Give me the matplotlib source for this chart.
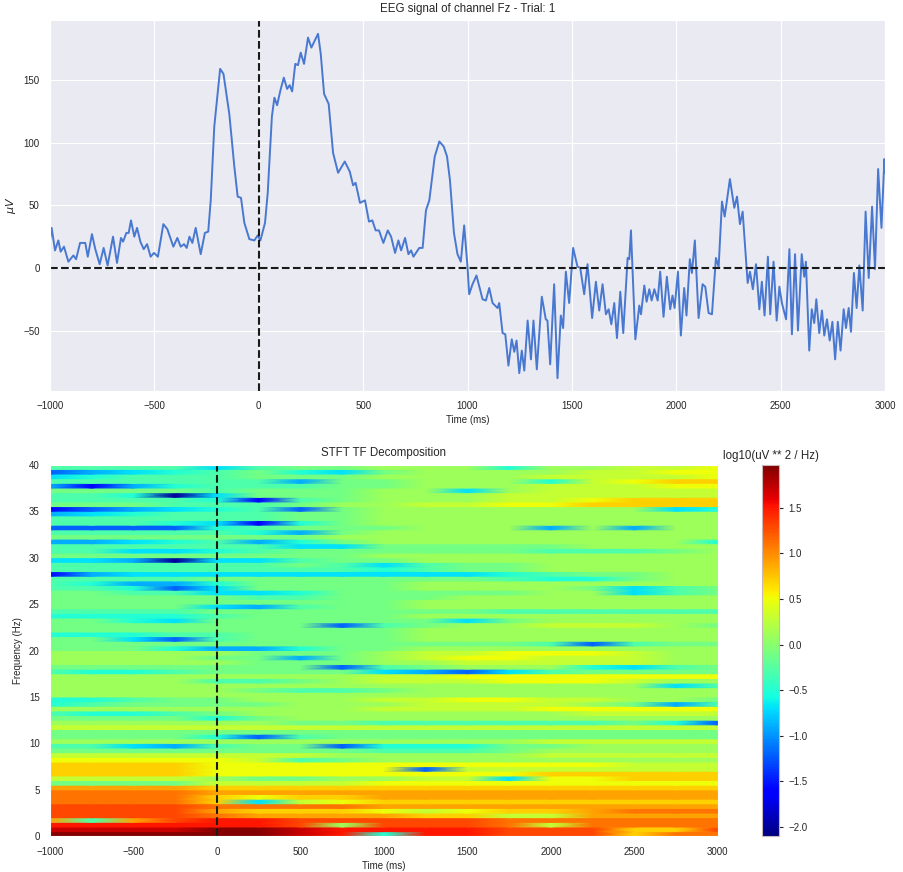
import numpy as np
import matplotlib
matplotlib.use("Agg")
import matplotlib.pyplot as plt
import seaborn as sns

# EEG trace (time in ms, amplitude in uV)
eeg_time = [-1000, -992, -976, -960, -949, -933, -912, -888, -875, -856, -831, -819, -799, -783, -762, -743,
            -724, -698, -679, -660, -650, -634, -623, -612, -596, -583, -567, -551, -535, -518, -502, -483,
            -457, -438, -409, -390, -374, -358, -345, -332, -318, -302, -278, -258, -242, -230, -213, -185,
            -169, -141, -117, -101, -85, -69, -45, -21, -5, 8, 30, 43, 63, 75, 88, 104, 120, 136, 148, 160,
            175, 188, 201, 217, 236, 252, 284, 297, 313, 335, 356, 380, 412, 436, 452, 464, 485, 509, 528,
            544, 560, 576, 597, 618, 634, 653, 669, 682, 701, 717, 730, 741, 769, 785, 801, 817, 843, 865,
            886, 902, 916, 935, 952, 968, 984, 1000, 1008, 1024, 1043, 1072, 1088, 1104, 1120, 1144, 1152,
            1168, 1181, 1196, 1212, 1224, 1235, 1248, 1260, 1272, 1288, 1304, 1316, 1332, 1356, 1375, 1383,
            1396, 1415, 1431, 1447, 1458, 1471, 1487, 1506, 1527, 1540, 1559, 1575, 1597, 1615, 1631, 1647,
            1663, 1676, 1689, 1703, 1716, 1732, 1746, 1767, 1775, 1783, 1804, 1823, 1831, 1847, 1858, 1871,
            1882, 1895, 1911, 1923, 1939, 1955, 1971, 1982, 1992, 2008, 2022, 2038, 2049, 2065, 2075, 2089,
            2107, 2126, 2139, 2155, 2171, 2190, 2203, 2219, 2232, 2257, 2278, 2291, 2305, 2318, 2342, 2353,
            2367, 2382, 2398, 2410, 2423, 2439, 2450, 2466, 2481, 2494, 2506, 2526, 2542, 2554, 2569, 2583,
            2601, 2613, 2621, 2637, 2649, 2661, 2671, 2685, 2698, 2709, 2722, 2735, 2748, 2761, 2774, 2787,
            2802, 2813, 2826, 2837, 2851, 2864, 2877, 2893, 2907, 2922, 2938, 2952, 2967, 2983, 2997, 3000]
eeg_uv = [22, 32, 14, 22, 13, 17, 5, 10, 7, 20, 20, 9, 27, 15, 3, 16,
          2, 25, 4, 24, 21, 28, 28, 38, 25, 32, 21, 15, 19, 9, 12, 9,
          35, 31, 17, 24, 17, 19, 16, 25, 20, 32, 11, 28, 29, 54, 113, 159,
          155, 123, 81, 57, 56, 36, 23, 22, 26, 22, 36, 60, 121, 136, 130, 142, 152, 143, 146, 141,
          163, 162, 172, 163, 184, 176, 187, 171, 139, 131, 92, 76, 85, 77, 66, 68, 52, 54, 37,
          38, 30, 30, 20, 30, 25, 12, 22, 14, 24, 11, 14, 9, 16, 16, 46, 54, 89, 101,
          97, 89, 70, 28, 11, 5, 34, 1, -21, -13, -6, -25, -26, -16, -28, -32, -28,
          -52, -53, -78, -57, -67, -58, -84, -66, -82, -42, -73, -42, -81, -23, -41, -42,
          -77, -13, -88, -38, -48, -3, -28, 16, 1, 0, -21, 3, -40, -11, -34, -13,
          -37, -33, -45, -28, -56, -19, -52, 8, 7, 30, -57, -30, -37, -14, -27, -17,
          -26, -17, -26, -3, -39, -7, -33, -22, -32, -3, -54, -16, -38, 7, -4, 22,
          -40, -13, -15, -36, -37, 8, 1, 53, 41, 71, 48, 57, 35, 45, -12, -3,
          -17, 3, -33, -11, -38, 9, -37, 5, -42, -15, -28, -41, 15, -53, 11, -50,
          11, -7, 5, -66, -33, -44, -25, -52, -34, -54, -41, -58, -43, -73, -43, -66,
          -33, -48, -32, -51, -4, -32, 2, -34, 45, -8, 49, -1, 79, 32, 87, 76]

# STFT power, log10(uV**2/Hz): one string per 0.5 Hz band, top band (39.5-40 Hz) first,
# one character per time column in stft_times, decoded with power_levels
stft_times = [-1000, -750, -500, -250, 0, 250, 500, 750, 1000, 1250, 1500, 1750, 2000, 2250, 2500, 2750, 3000]
power_levels = {'0': -2.0, '1': -1.6, '2': -1.2, '3': -0.9, '4': -0.7, '5': -0.5, '6': -0.3,
                '7': -0.1, '8': 0.1, '9': 0.3, 'a': 0.5, 'b': 0.7, 'c': 0.9, 'd': 1.1,
                'e': 1.3, 'f': 1.5, 'g': 1.7, 'h': 1.95}
stft_rows = [
    "6666467788858899a",
    "234567547888899aa",
    "4566677788889999a",
    "66666637788859abb",
    "313566677888999aa",
    "77776777884899999",
    "66504777888999999",
    "6666516788899abbb",
    "77766678899aabbbb",
    "12345627888888845",
    "34566677888888888",
    "66666677888888888",
    "66654157888888888",
    "22225677788838388",
    "66666537888888888",
    "77777778888888888",
    "33456357888888885",
    "66666644777778888",
    "66445677777766678",
    "77777777888888888",
    "44304467788888888",
    "66666676467788888",
    "66666666567788888",
    "13444444444567788",
    "66667777777655788",
    "65335777788888888",
    "66524777788887467",
    "77664457777788467",
    "77777667778888888",
    "77777777788888888",
    "77774367788888888",
    "66667777777666666",
    "55556777788888888",
    "77547777774788888",
    "77777772678899987",
    "77777777788888888",
    "55566777788888888",
    "77426777788888888",
    "77777777777762677",
    "77753357788888888",
    "88888777899aaa988",
    "8888773789aa99988",
    "88888777889999988",
    "77777772678885467",
    "65567777432467777",
    "8888888899aaaaaaa",
    "88886678999aaa988",
    "88888888888888846",
    "88888766788888888",
    "88888888888888888",
    "5567788899aa99887",
    "56777788899998736",
    "888888889999aaaaa",
    "65567888888889999",
    "77775788888888888",
    "88888877666666752",
    "99999999999999999",
    "77777777777777777",
    "77775267777777777",
    "88888888888899999",
    "66436772555778888",
    "77777777666788888",
    "99999998888899999",
    "aaaaa967888888888",
    "bbbbaaaaaaaaaa999",
    "bbbbaaaaa29999999",
    "bbbbaaaaaaaabbbbb",
    "999987788994aabbb",
    "77779999aaaaaaaaa",
    "ccccbbbbbbbbbbbbb",
    "ddddccccccccccccc",
    "ddddbabbccccccccc",
    "ddddb49abbbbbbbbb",
    "eeeeddddccccccccc",
    "eeeecbbba9abbcddd",
    "eeeedccccbb99cccc",
    "c6ceffeeeeedddddd",
    "ffffffe8eeed9dddd",
    "gggghhgffffeeebbe",
    "hhhhhhgf5ffeeebdd",
]

fig_title = "EEG signal of channel Fz - Trial: 1"
tf_title = "STFT TF Decomposition"
cbar_title = "log10(uV ** 2 / Hz)"

sns.set_style("darkgrid")
plt.rcParams['font.family'] = ['Liberation Sans', 'DejaVu Sans']

# decode the strings into a number grid
power = np.array([[power_levels[ch] for ch in row] for row in stft_rows])
power = power[::-1]  # bottom band first
n_bands = power.shape[0]
band_lo = np.arange(n_bands) * 0.5

# two vertices per band so each band keeps a flat colour from bottom to top
band_y = np.column_stack([band_lo, band_lo + 0.5]).ravel()
grid_c = np.repeat(power, 2, axis=0)
grid_x, grid_y = np.meshgrid(stft_times, band_y)

fig = plt.figure(figsize=(9.04, 8.72), dpi=100)

# top: raw signal
ax1 = fig.add_axes([0.0553, 0.552, 0.9237, 0.425])
ax1.plot(eeg_time, eeg_uv, color='#4878d0', lw=1.4)
ax1.axvline(0, color='#1a1a1a', ls='--', lw=1.5)
ax1.axhline(0, color='#1a1a1a', ls='--', lw=1.5)
ax1.set_xlim(-1000, 3000)
ax1.set_ylim(-98, 198)
ax1.set_yticks([-50, 0, 50, 100, 150])
ax1.set_title(fig_title, fontsize=8.3, color='#262626')
ax1.set_xlabel("Time (ms)", fontsize=7, color='#262626', labelpad=3)
ax1.set_ylabel(r"$\mu V$", fontsize=8, color='#262626')
ax1.tick_params(labelsize=7, colors='#262626', pad=4)

# bottom: time-frequency map
ax2 = fig.add_axes([0.0553, 0.041, 0.7387, 0.426])
mesh = ax2.pcolormesh(grid_x, grid_y, grid_c, cmap='jet', shading='gouraud', vmin=-2.1, vmax=1.97)
ax2.axvline(0, color='#1a1a1a', ls='--', lw=1.5)
ax2.set_xlim(-1000, 3000)
ax2.set_ylim(0, 40)
ax2.grid(False)
ax2.set_title(tf_title, fontsize=8.3, color='#262626')
ax2.set_xlabel("Time (ms)", fontsize=7, color='#262626', labelpad=3)
ax2.set_ylabel("Frequency (Hz)", fontsize=7, color='#262626')
ax2.tick_params(labelsize=7, colors='#262626', pad=4)

cax = fig.add_axes([0.843, 0.041, 0.019, 0.426])
cb = fig.colorbar(mesh, cax=cax)
cb.set_ticks([-2.0, -1.5, -1.0, -0.5, 0.0, 0.5, 1.0, 1.5])
cax.grid(False)
cax.tick_params(labelsize=7, colors='#262626', length=3, width=0.8)
cb.outline.set_edgecolor('#c8b8b8')
cb.outline.set_linewidth(0.8)
cax.set_title(cbar_title, fontsize=8.3, color='#262626', pad=4)

plt.savefig("out.png", dpi=100)
